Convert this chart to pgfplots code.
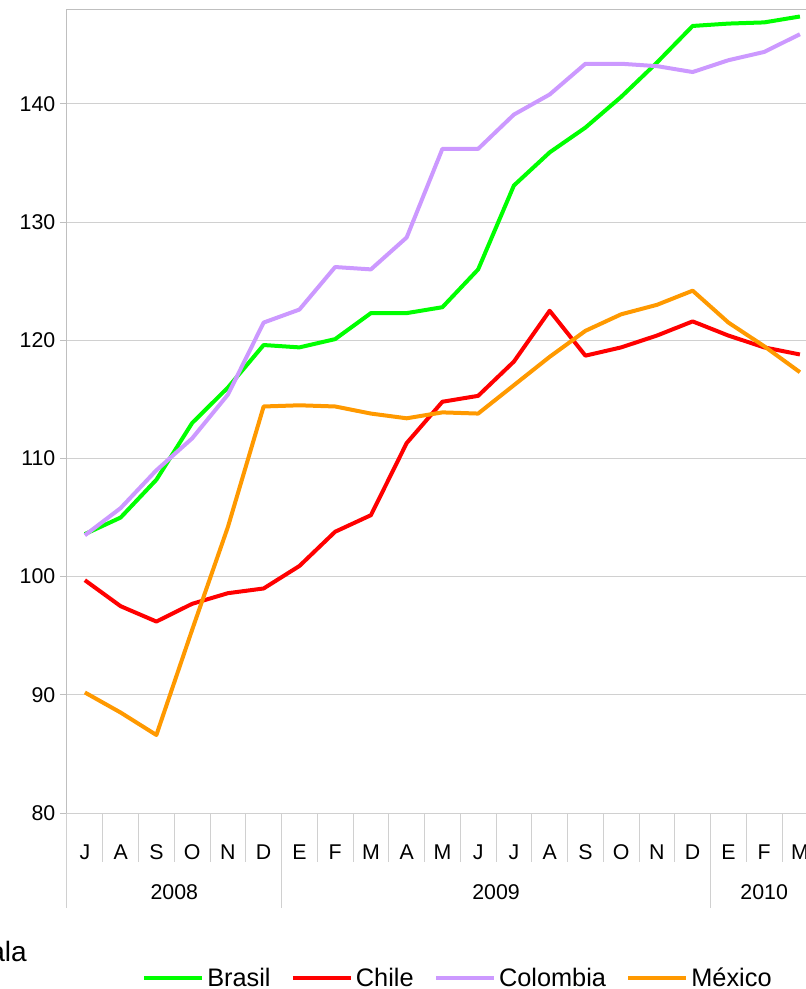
\documentclass[border=0pt]{standalone}
\usepackage{fontspec}
\setmainfont{Liberation Sans}
\usepackage{pgfplots}
\pgfplotsset{compat=1.18}
\definecolor{cBrasil}{HTML}{00FF00}
\definecolor{cChile}{HTML}{FF0000}
\definecolor{cColombia}{HTML}{CC99FF}
\definecolor{cMexico}{HTML}{FF9900}
\definecolor{axisgray}{HTML}{BFBFBF}
\definecolor{gridgray}{HTML}{D0D0D0}
\definecolor{sepgray}{HTML}{D0D0D0}
\begin{document}
\begin{tikzpicture}
\path[use as bounding box] (0pt,0pt) rectangle (604.5pt,741.75pt);
\begin{axis}[
  at={(50.25pt,132pt)}, anchor=south west,
  scale only axis, width=554.25pt, height=602.25pt,
  xmin=-0.5, xmax=20.17, ymin=80, ymax=147.95,
  clip=false,
  axis line style={draw=none},
  ytick={80,90,...,140},
  ymajorgrids, grid style={color=gridgray, line width=0.75pt},
  ytick pos=left, tick align=outside, major tick length=5.25pt,
  ytick style={draw=axisgray, line width=0.75pt},
  xtick style={draw=none},
  xtick={0,...,20},
  xticklabels={J,A,S,O,N,D,E,F,M,A,M,J,J,A,S,O,N,D,E,F,M},
  xticklabel style={anchor=center, yshift=-24pt, font=\fontsize{16}{18}\selectfont},
  yticklabel style={font=\fontsize{16}{18}\selectfont},
  /pgf/number format/assume math mode=true,
  legend columns=4,
  legend style={at={(axis description cs:0.1015,-0.2055)}, anchor=west, draw=none, fill=none,
    inner sep=0pt, font=\fontsize{19}{22}\selectfont,
    nodes={inner xsep=2.25pt, inner ysep=0pt},
    /tikz/every even column/.append style={column sep=13pt}},
  legend image code/.code={\draw[#1] (0pt,0pt) -- (43.5pt,0pt);},
  every axis plot/.append style={line width=3pt, line join=round},
]
\addplot[cBrasil] coordinates {(0,103.6) (1,105.0) (2,108.2) (3,113.0) (4,116.0) (5,119.6) (6,119.4) (7,120.1) (8,122.3) (9,122.3) (10,122.8) (11,126.0) (12,133.1) (13,135.9) (14,138.0) (15,140.6) (16,143.5) (17,146.6) (18,146.8) (19,146.9) (20,147.4)};
\addlegendentry{Brasil}
\addplot[cChile] coordinates {(0,99.7) (1,97.5) (2,96.2) (3,97.7) (4,98.6) (5,99.0) (6,100.9) (7,103.8) (8,105.2) (9,111.3) (10,114.8) (11,115.3) (12,118.2) (13,122.5) (14,118.7) (15,119.4) (16,120.4) (17,121.6) (18,120.4) (19,119.4) (20,118.8)};
\addlegendentry{Chile}
\addplot[cColombia] coordinates {(0,103.5) (1,105.8) (2,109.0) (3,111.7) (4,115.4) (5,121.5) (6,122.6) (7,126.2) (8,126.0) (9,128.7) (10,136.2) (11,136.2) (12,139.1) (13,140.8) (14,143.4) (15,143.4) (16,143.2) (17,142.7) (18,143.7) (19,144.4) (20,145.9)};
\addlegendentry{Colombia}
\addplot[cMexico] coordinates {(0,90.2) (1,88.5) (2,86.6) (3,95.5) (4,104.2) (5,114.4) (6,114.5) (7,114.4) (8,113.8) (9,113.4) (10,113.9) (11,113.8) (12,116.2) (13,118.6) (14,120.8) (15,122.2) (16,123.0) (17,124.2) (18,121.5) (19,119.5) (20,117.3)};
\addlegendentry{México}
% axis frame (left and top)
\draw[axisgray, line width=0.75pt] (rel axis cs:0,0) -- (rel axis cs:0,1) -- (rel axis cs:1,1);
% category separators
\pgfplotsinvokeforeach{0.5,1.5,2.5,3.5,4.5,6.5,7.5,8.5,9.5,10.5,11.5,12.5,13.5,14.5,15.5,16.5,18.5,19.5}{
  \draw[sepgray, line width=0.75pt] (axis cs:#1,80) -- ++(0pt,-36.75pt);
}
\pgfplotsinvokeforeach{-0.5,5.5,17.5}{
  \draw[sepgray, line width=0.75pt] (axis cs:#1,80) -- ++(0pt,-71.25pt);
}
\node[font=\fontsize{16}{18}\selectfont] at ([yshift=-59.25pt]axis cs:2.5,80) {2008};
\node[font=\fontsize{16}{18}\selectfont] at ([yshift=-59.25pt]axis cs:11.5,80) {2009};
\node[font=\fontsize{16}{18}\selectfont] at ([yshift=-59.25pt]axis cs:19,80) {2010};
\end{axis}
\node[anchor=base east, inner sep=0pt, font=\fontsize{21}{25}\selectfont] at (20.25pt,20.25pt) {ala};
\end{tikzpicture}
\end{document}
